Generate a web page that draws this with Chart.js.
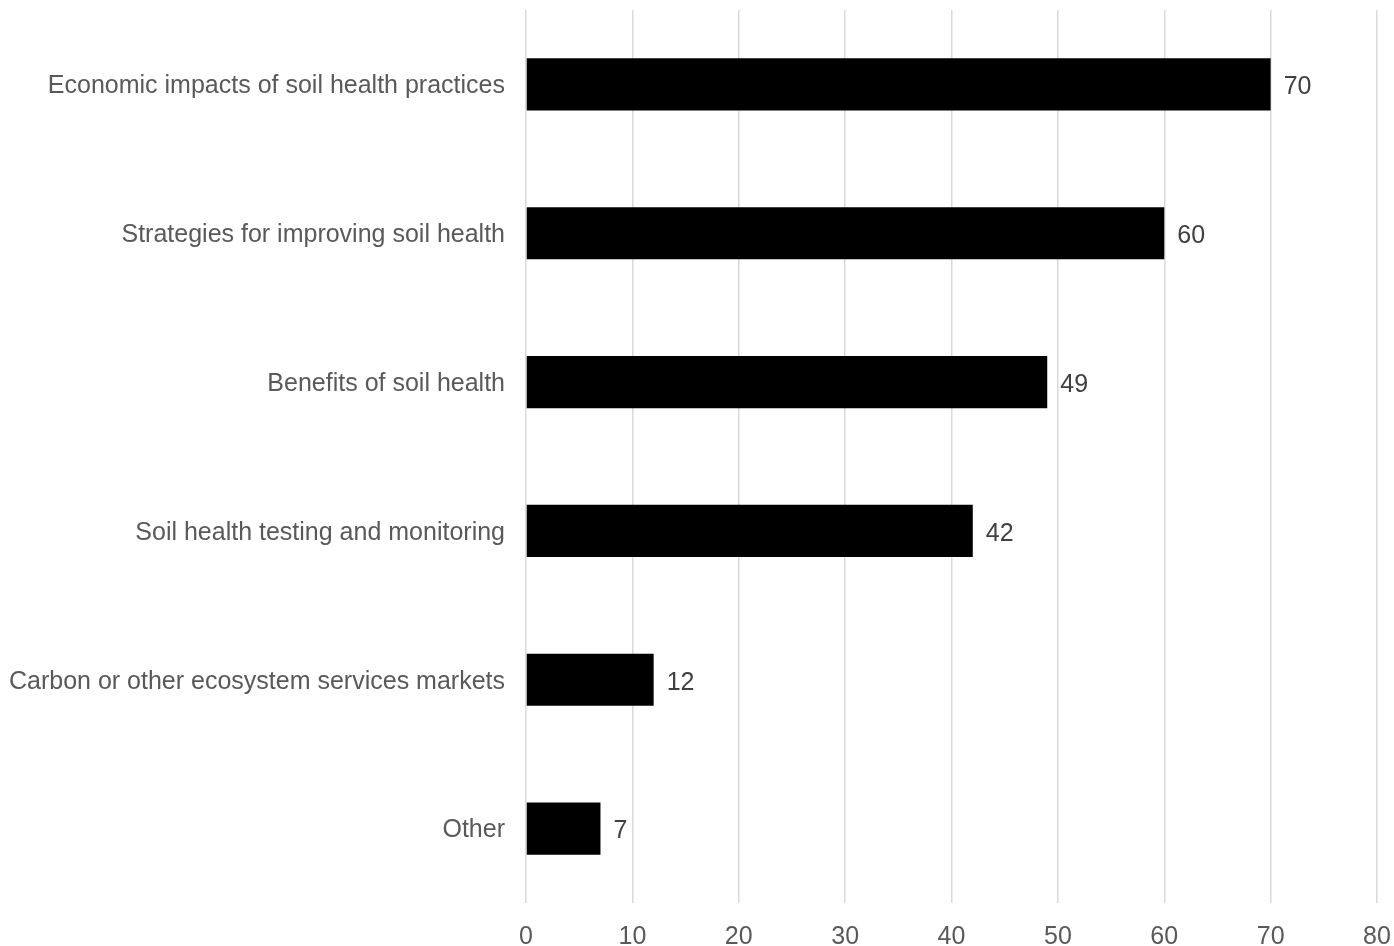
<!DOCTYPE html>
<html>
<head>
<meta charset="utf-8">
<script src="https://cdn.jsdelivr.net/npm/chart.js@4/dist/chart.umd.min.js"></script>
<style>
  body { margin: 0; background: #fff; }
  canvas { display: block; }
</style>
</head>
<body>
<canvas id="chart" width="1394" height="946"></canvas>
<script>
const categories = [
  'Economic impacts of soil health practices',
  'Strategies for improving soil health',
  'Benefits of soil health',
  'Soil health testing and monitoring',
  'Carbon or other ecosystem services markets',
  'Other'
];
const responses = [70, 60, 49, 42, 12, 7];
const xTicks = [0, 10, 20, 30, 40, 50, 60, 70, 80];

const FONT = '"Liberation Sans", Arial, Helvetica, sans-serif';

// draws the value just right of each bar
const barValues = {
  id: 'barValues',
  afterDatasetsDraw(chart) {
    const ctx = chart.ctx;
    ctx.save();
    ctx.font = '25px ' + FONT;
    ctx.fillStyle = '#404040';
    ctx.textAlign = 'left';
    ctx.textBaseline = 'middle';
    chart.getDatasetMeta(0).data.forEach((bar, i) => {
      ctx.fillText(chart.data.datasets[0].data[i], bar.x + 13, bar.y + 3);
    });
    ctx.restore();
  }
};

const ctx = document.getElementById('chart').getContext('2d');
new Chart(ctx, {
  type: 'bar',
  data: {
    labels: categories,
    datasets: [{
      data: responses,
      backgroundColor: '#000000',
      borderWidth: 0,
      categoryPercentage: 1,
      barPercentage: 0.35
    }]
  },
  options: {
    indexAxis: 'y',
    responsive: false,
    animation: false,
    layout: { padding: { top: 10, right: 17, left: 0, bottom: 0 } },
    plugins: {
      legend: { display: false },
      tooltip: { enabled: false }
    },
    scales: {
      x: {
        min: 0,
        max: 80,
        afterBuildTicks(scale) {
          scale.ticks = xTicks.map(v => ({ value: v }));
        },
        afterFit(scale) {
          scale.height = 43;
          scale.paddingLeft = 0;
          scale.paddingRight = 0;
        },
        grid: { color: '#d9d9d9', lineWidth: 1.5, drawTicks: false },
        border: { display: false },
        ticks: {
          color: '#595959',
          font: { family: FONT, size: 25 },
          padding: 19,
          maxRotation: 0
        }
      },
      y: {
        afterFit(scale) {
          scale.width = 526;
          scale.paddingTop = 0;
          scale.paddingBottom = 0;
        },
        grid: { display: false, drawTicks: false },
        border: { display: false },
        ticks: {
          color: '#595959',
          font: { family: FONT, size: 25 },
          padding: 21,
          labelOffset: 2
        }
      }
    }
  },
  plugins: [barValues]
});
</script>
</body>
</html>
